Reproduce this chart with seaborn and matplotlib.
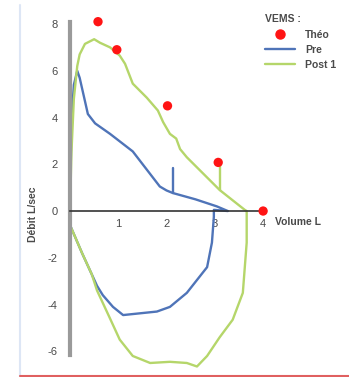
import matplotlib
matplotlib.use("Agg")
import matplotlib.pyplot as plt
from matplotlib.lines import Line2D
import seaborn as sns
import pandas as pd

# ---- data ----
theo_vol = [0.58, 0.97, 2.02, 3.07, 4.0]
theo_flow = [8.1, 6.9, 4.5, 2.08, 0.0]

pre_vol = [0, 0.03, 0.08, 0.15, 0.2, 0.31, 0.37, 0.52, 0.83, 1.3, 1.86, 2.0, 2.13, 2.6, 3.04, 3.27,
           2.98, 2.98, 2.94, 2.84, 2.42, 2.07, 1.8, 1.1, 0.89, 0.68, 0.56, 0.25, 0.0]
pre_flow = [0, 3.8, 5.4, 6.0, 5.7, 4.7, 4.15, 3.75, 3.3, 2.55, 1.05, 0.88, 0.77, 0.5, 0.2, 0.0,
            0.05, -0.25, -1.35, -2.4, -3.5, -4.1, -4.3, -4.45, -4.1, -3.6, -3.2, -1.8, -0.6]

post_vol = [0, 0.03, 0.08, 0.15, 0.2, 0.31, 0.5, 0.62, 0.83, 1.03, 1.14, 1.3, 1.59, 1.82, 1.93,
            2.07, 2.2, 2.28, 2.42, 3.1, 3.62, 3.66,
            3.66, 3.58, 3.37, 3.1, 2.84, 2.63, 2.42, 2.07, 1.66, 1.3, 1.03, 0.83, 0.56, 0.45, 0.25, 0.0]
post_flow = [0, 2.5, 4.8, 6.2, 6.7, 7.15, 7.35, 7.2, 7.0, 6.65, 6.3, 5.45, 4.85, 4.3, 3.8,
             3.3, 3.1, 2.65, 2.3, 0.9, 0.05, 0.0,
             -1.35, -3.5, -4.65, -5.4, -6.2, -6.65, -6.5, -6.45, -6.5, -6.2, -5.5, -4.6, -3.4, -2.7, -1.8, -0.6]

pre_fev_vol = [2.13, 2.13]
pre_fev_flow = [0.77, 1.83]
post_fev_vol = [3.1, 3.1]
post_fev_flow = [2.05, 0.9]

x_ticks = [1, 2, 3, 4]
y_ticks = [-6, -4, -2, 0, 2, 4, 6, 8]

# ---- style ----
BLUE = "#4f74b8"
GREEN = "#b5d66a"
RED = "#ff1414"
TXT = "#4a4a4a"

sns.set_style("white")
plt.rcParams['font.family'] = ['Liberation Sans', 'DejaVu Sans']

fig = plt.figure(figsize=(3.49, 3.77), dpi=100)
ax = fig.add_axes([70 / 349, 7 / 377, 280 / 349, 353 / 377])

lines = pd.concat([
    pd.DataFrame({"vol": pre_vol, "flow": pre_flow, "serie": "Pre"}),
    pd.DataFrame({"vol": post_vol, "flow": post_flow, "serie": "Post 1"}),
], ignore_index=True)

sns.lineplot(data=lines, x="vol", y="flow", hue="serie", units="serie", estimator=None,
             sort=False, palette={"Pre": BLUE, "Post 1": GREEN}, linewidth=1.7,
             legend=False, ax=ax)
sns.lineplot(x=pre_fev_vol, y=pre_fev_flow, sort=False, estimator=None, color=BLUE,
             linewidth=1.7, ax=ax)
sns.lineplot(x=post_fev_vol, y=post_fev_flow, sort=False, estimator=None, color=GREEN,
             linewidth=1.7, ax=ax)
sns.scatterplot(x=theo_vol, y=theo_flow, color=RED, s=45, edgecolor="none", ax=ax,
                zorder=5, clip_on=False)

ax.set_xlim(0, 5.8)
ax.set_ylim(-6.8, 8.3)

for s in ["top", "right"]:
    ax.spines[s].set_visible(False)
ax.spines["bottom"].set_position(("data", 0))
ax.spines["bottom"].set_bounds(0, 4.0)
ax.spines["bottom"].set_color("#333333")
ax.spines["bottom"].set_linewidth(1.2)
ax.spines["left"].set_bounds(-6.15, 8.1)
ax.spines["left"].set_color("#9a9a9a")
ax.spines["left"].set_linewidth(3)

ax.set_xticks(x_ticks)
ax.set_xticklabels([str(t) for t in x_ticks])
ax.set_yticks(y_ticks)
ax.set_yticklabels([str(t) for t in y_ticks])
ax.tick_params(axis="x", direction="inout", length=6, width=1, color="#555555",
               labelsize=8, labelcolor=TXT, pad=3)
ax.tick_params(axis="y", direction="out", length=4, width=1, color="#777777",
               labelsize=8, labelcolor=TXT, pad=5)
ax.set_xlabel("")
ax.set_ylabel("")

ax.text(4.25, -0.45, "Volume L", fontsize=7.5, color=TXT, fontweight="bold",
        ha="left", va="center")
fig.text(33 / 349, 1 - 214 / 377, "Débit L/sec", rotation=90, fontsize=7.5, color=TXT,
         fontweight="bold", ha="center", va="center")

handles = [
    Line2D([], [], marker="o", linestyle="none", color=RED, markersize=6.5),
    Line2D([], [], color=BLUE, linewidth=1.7),
    Line2D([], [], color=GREEN, linewidth=1.7),
]
leg = fig.legend(handles, ["Théo", "Pre", "Post 1"], title="VEMS :",
                 loc="upper left", bbox_to_anchor=(256 / 349, 1 - 5 / 377),
                 frameon=False, fontsize=7.5, title_fontsize=7.5,
                 handlelength=2.8, handletextpad=1.0, labelspacing=0.5,
                 alignment="left")
leg.get_title().set_color(TXT)
leg.get_title().set_fontweight("bold")
for t in leg.get_texts():
    t.set_color(TXT)
    t.set_fontweight("bold")

# frame lines of the original image
fig.add_artist(Line2D([20 / 349, 20 / 349], [0, 1 - 5 / 377], transform=fig.transFigure,
                      color="#dde6f5", linewidth=1.5))
fig.add_artist(Line2D([20 / 349, 1], [1.5 / 377, 1.5 / 377], transform=fig.transFigure,
                      color="#e06060", linewidth=1.5))

fig.savefig("out.png", dpi=100)
